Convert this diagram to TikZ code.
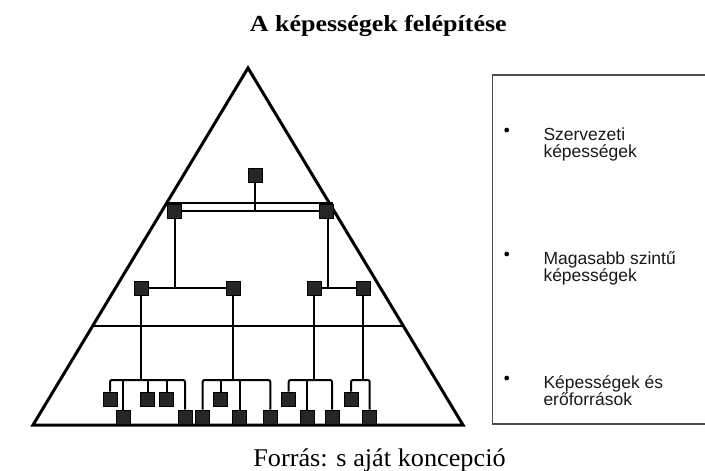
\documentclass[tikz,border=0pt]{standalone}
\usepackage{fontspec}
\setmainfont{Liberation Serif}
\newfontfamily\titlefont[FakeStretch=1.13]{Liberation Serif}
\newfontfamily\capfont[FakeStretch=1.03]{Liberation Serif}
\newfontfamily\listfont{Liberation Sans}
\usetikzlibrary{calc}
\tikzset{
  sq/.style={rectangle, minimum size=14pt, inner sep=0pt, fill=black!85, draw=black, line width=0.8pt},
  ln/.style={line width=2pt, black},
  br/.style={line width=2pt, black, rounded corners=2pt},
  tri/.style={line width=3pt, black, line join=miter},
  bul/.style={circle, fill=black, inner sep=0pt, minimum size=4.8pt},
  itm/.style={anchor=base west, inner sep=0pt, font=\listfont\fontsize{17.5}{17.7}\selectfont, text=black!90}
}
\begin{document}
\begin{tikzpicture}[x=1pt, y=-1pt]
\useasboundingbox (0,0) rectangle (705,471);

% title and caption
\node[anchor=base, inner sep=0pt, font=\titlefont\bfseries\fontsize{23}{27}\selectfont] (title) at (378.3,31.7) {A képességek felépítése};
\node[anchor=base, inner sep=0pt, font=\capfont\fontsize{25.5}{28}\selectfont] (cap) at (379.5,466.5) {Forrás: s aját koncepció};

% triangle
\coordinate (A) at (248,68);
\coordinate (BL) at (33,425);
\coordinate (BR) at (463,425);
\draw[tri] (A) -- (BL) -- (BR) -- cycle;
\draw[ln] ($(A)!0.7227!(BL)$) -- ($(A)!0.7227!(BR)$);

% squares
\node[sq] (t) at (255,175) {};
\node[sq] (L1a) at (174,211) {};
\node[sq] (L1b) at (326,211) {};
\node[sq] (L2a) at (141,288) {};
\node[sq] (L2b) at (233,288) {};
\node[sq] (L2c) at (314,288) {};
\node[sq] (L2d) at (363,288) {};
\node[sq] (u1) at (110,399) {};
\node[sq] (u2) at (147.5,399) {};
\node[sq] (u3) at (166.5,399) {};
\node[sq] (u4) at (220.7,399) {};
\node[sq] (u5) at (288.7,399) {};
\node[sq] (u6) at (351,399) {};
\node[sq] (d1) at (123,417) {};
\node[sq] (d2) at (185,417) {};
\node[sq] (d3) at (202.7,417) {};
\node[sq] (d4) at (239.7,417) {};
\node[sq] (d5) at (270.3,417) {};
\node[sq] (d6) at (307.3,417) {};
\node[sq] (d7) at (332,417) {};
\node[sq] (d8) at (369.7,417) {};
\coordinate (b) at (0,380);

% top connections
\draw[ln] ([yshift=1pt]L1a.north west) -- ([yshift=1pt]L1b.north east);
\draw[ln] (L1a) -- (L1b);
\draw[ln] (t) -- (t |- L1a);
% level 2
\draw[ln] (L2a) -- (L2b);
\draw[ln] ([xshift=1pt]L1a.south) -- ([xshift=1pt]L1a.south |- L2a);
\draw[ln] (L2c) -- (L2d);
\draw[ln] ([xshift=2pt]L1b.south) -- ([xshift=2pt]L1b.south |- L2c);
% feeds to bottom brackets
\draw[ln] (L2a) -- (L2a |- b);
\draw[ln] (L2b) -- (L2b |- b);
\draw[ln] (L2c) -- (L2c |- b);
\draw[ln] (L2d) -- (L2d |- b);
% bracket groups
\draw[br] (u1) -- (u1 |- b) -- (d2 |- b) -- (d2);
\draw[ln] (d1) -- (d1 |- b);
\draw[ln] (u2) -- (u2 |- b);
\draw[ln] (u3) -- (u3 |- b);
\draw[br] (d3) -- (d3 |- b) -- (d5 |- b) -- (d5);
\draw[ln] (u4) -- (u4 |- b);
\draw[ln] (d4) -- (d4 |- b);
\draw[br] (u5) -- (u5 |- b) -- (d7 |- b) -- (d7);
\draw[ln] (d6) -- (d6 |- b);
\draw[br] (u6) -- (u6 |- b) -- (d8 |- b) -- (d8);

% redraw squares on top
\foreach \n in {t,L1a,L1b,L2a,L2b,L2c,L2d,u1,u2,u3,u4,u5,u6,d1,d2,d3,d4,d5,d6,d7,d8}
  \node[sq] at (\n) {};

% right box
\draw[line width=1.5pt, black!70] (708,75) -- (492.7,75) -- (492.7,424) -- (708,424);
\node[bul] (p1) at (506.7,130) {};
\node[bul] (p2) at (506.7,254) {};
\node[bul] (p3) at (506.7,378) {};
\node[itm] (s1a) at (543.3,140) {Szervezeti};
\node[itm] (s1b) at (543.3,157.7) {képességek};
\node[itm] (s2a) at (543.3,264) {Magasabb szintű};
\node[itm] (s2b) at (543.3,281.7) {képességek};
\node[itm] (s3a) at (543.3,388) {Képességek és};
\node[itm] (s3b) at (543.3,405.7) {erőforrások};
\end{tikzpicture}
\end{document}
